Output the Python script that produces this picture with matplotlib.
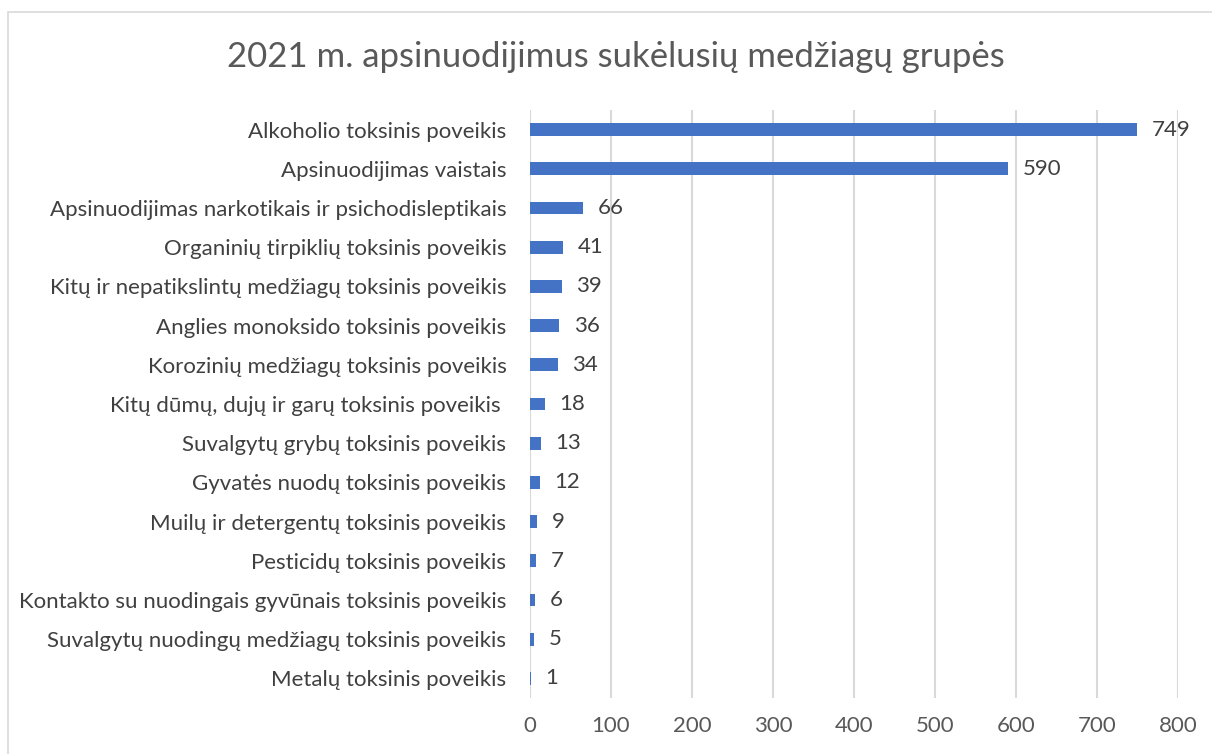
import matplotlib.pyplot as plt
from matplotlib.patches import Rectangle

# ===== Data
categories = [
    'Alkoholio toksinis poveikis',
    'Apsinuodijimas vaistais',
    'Apsinuodijimas narkotikais ir psichodisleptikais',
    'Organinių tirpiklių toksinis poveikis',
    'Kitų ir nepatikslintų medžiagų toksinis poveikis',
    'Anglies monoksido toksinis poveikis',
    'Korozinių medžiagų toksinis poveikis',
    'Kitų dūmų, dujų ir garų toksinis poveikis ',
    'Suvalgytų grybų toksinis poveikis',
    'Gyvatės nuodų toksinis poveikis',
    'Muilų ir detergentų toksinis poveikis',
    'Pesticidų toksinis poveikis',
    'Kontakto su nuodingais gyvūnais toksinis poveikis',
    'Suvalgytų nuodingų medžiagų toksinis poveikis',
    'Metalų toksinis poveikis',
]
values = [749, 590, 66, 41, 39, 36, 34, 18, 13, 12, 9, 7, 6, 5, 1]
xticks = [0, 100, 200, 300, 400, 500, 600, 700, 800]

title = '2021 m. apsinuodijimus sukėlusių medžiagų grupės'

plt.rcParams['font.family'] = ['Lato', 'DejaVu Sans']

fig = plt.figure(figsize=(12.12, 7.54), dpi=100)
ax = fig.add_axes([530 / 1212, 1 - 698 / 754, (1178 - 530) / 1212, (698 - 110) / 754])

pos = list(range(len(categories)))
ax.barh(pos, values, height=0.33, color='#4472C4', zorder=2)

for p, v in zip(pos, values):
    ax.text(v + 18, p, str(v), va='center', ha='left', fontsize=16, color='#404040')

ax.set_yticks(pos)
ax.set_yticklabels(categories, fontsize=16, color='#404040')
ax.set_ylim(len(categories) - 0.5, -0.5)
ax.set_xlim(0, 800)
ax.set_xticks(xticks)
ax.set_xticklabels([str(t) for t in xticks], fontsize=16, color='#595959')
ax.tick_params(axis='both', length=0)
ax.tick_params(axis='x', pad=13)
ax.tick_params(axis='y', pad=17)

ax.grid(axis='x', color='#D9D9D9', linewidth=1.5, zorder=0)
for s in ax.spines.values():
    s.set_visible(False)

fig.text(0.508, 1 - 57 / 754, title, ha='center', va='center', fontsize=25, color='#595959')

# outer chart border
fig.patches.append(Rectangle((8 / 1212, -0.05), 1.1, 1 - 12 / 754 + 0.05, transform=fig.transFigure,
                             fill=False, edgecolor='#D9D9D9', linewidth=1.2))

fig.savefig('out.png', dpi=100)
